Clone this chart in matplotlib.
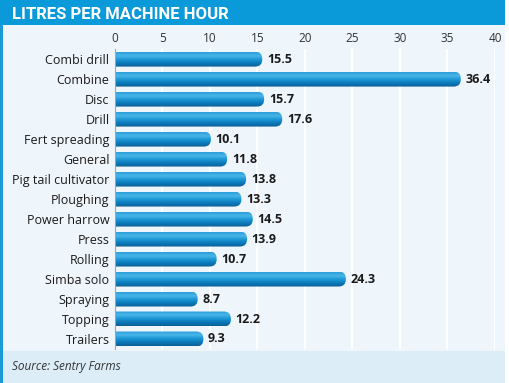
import numpy as np
import matplotlib
matplotlib.use("Agg")
import matplotlib.pyplot as plt
from matplotlib.patches import FancyBboxPatch, Rectangle
from matplotlib.colors import LinearSegmentedColormap

# 数据
categories = ["Combi drill", "Combine", "Disc", "Drill", "Fert spreading", "General",
              "Pig tail cultivator", "Ploughing", "Power harrow", "Press", "Rolling",
              "Simba solo", "Spraying", "Topping", "Trailers"]
litres = [15.5, 36.4, 15.7, 17.6, 10.1, 11.8, 13.8, 13.3, 14.5, 13.9, 10.7, 24.3, 8.7, 12.2, 9.3]
x_ticks = [0, 5, 10, 15, 20, 25, 30, 35, 40]

title = "LITRES PER MACHINE HOUR"
source = "Source: Sentry Farms"

plt.rcParams["font.family"] = ["Open Sans", "DejaVu Sans"]

fig = plt.figure(figsize=(5.1, 3.83), dpi=100)
fig.patch.set_facecolor("#ffffff")

# 背景
bg = [((0, 0), 0.99, 1, "#eef5fb"),
      ((0, 0), 0.99, 0.083, "#dcedf8"),
      ((0, 0), 0.006, 1, "#1a9ad6"),
      ((0, 0.935), 0.99, 0.065, "#0b9ad9")]
for xy, w, h, c in bg:
    fig.add_artist(Rectangle(xy, w, h, transform=fig.transFigure,
                             facecolor=c, edgecolor="none", zorder=-5))
fig.text(0.024, 0.963, title, color="white", fontsize=12, fontweight="bold",
         family=["Roboto", "DejaVu Sans"], va="center", ha="left")

ax = fig.add_axes([0.2255, 0.0888, 0.745, 0.783])
ax.set_facecolor("none")
ax.set_zorder(2)

y = np.arange(len(categories))
bars = ax.barh(y, litres, height=0.75, color="none", zorder=2)

cmap = LinearSegmentedColormap.from_list(
    "bar", ["#0d5f95", "#0a78b8", "#1b95d4", "#49b6e8", "#2d9edb"])
grad = np.linspace(0, 1, 64).reshape(-1, 1)

for b in bars:
    x0, y0 = -2, b.get_y()
    w, h = b.get_width() + 2, b.get_height()
    patch = FancyBboxPatch((x0, y0), w, h,
                           boxstyle="round,pad=0,rounding_size=0.75",
                           mutation_aspect=0.47, facecolor="none",
                           edgecolor="none", zorder=2)
    ax.add_patch(patch)
    im = ax.imshow(grad, extent=(x0, x0 + w, y0 + h, y0), cmap=cmap,
                   aspect="auto", origin="lower", zorder=2, interpolation="bilinear")
    im.set_clip_path(patch)
    ax.text(b.get_width() + 0.5, b.get_y() + h / 2, f"{b.get_width():.1f}",
            va="center", ha="left", fontsize=9, fontweight="bold", color="#1a1a1a")

ax.set_xlim(0, 40)
ax.set_ylim(len(categories) - 0.5, -0.5)
ax.set_xticks(x_ticks)
ax.xaxis.tick_top()
ax.tick_params(axis="x", length=0, labelsize=8.5, colors="#333333", pad=3)
ax.set_yticks(y)
ax.set_yticklabels(categories)
ax.tick_params(axis="y", length=0, labelsize=9, colors="#1a1a1a", pad=4)
ax.grid(axis="x", color="#ffffff", linewidth=1.6, zorder=0)
ax.set_axisbelow(True)
for s in ["top", "right", "bottom"]:
    ax.spines[s].set_visible(False)
ax.spines["left"].set_color("#9aa8b4")
ax.spines["left"].set_linewidth(0.8)

fig.text(0.024, 0.044, source, fontsize=8.5, style="italic", color="#333333",
         va="center", ha="left")

fig.savefig("out.png", dpi=100)
